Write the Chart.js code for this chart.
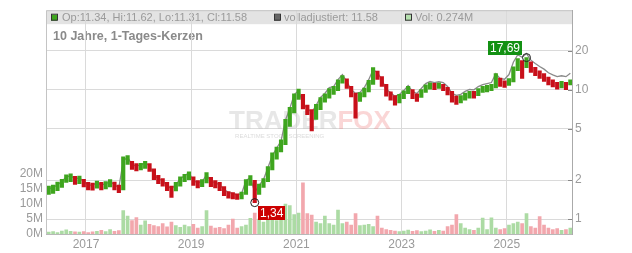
<!DOCTYPE html>
<html>
<head>
<meta charset="utf-8">
<script src="https://cdn.jsdelivr.net/npm/chart.js@4.4.1/dist/chart.umd.min.js"></script>
<style>
  html, body { margin: 0; padding: 0; background: #fff; }
  #wrap { width: 632px; height: 253px; }
</style>
</head>
<body>
<div id="wrap"><canvas id="chart" width="632" height="253"></canvas></div>
<script>
const ersterMonat = { jahr: 2016, monat: 4 };

const schluss = [
  1.67, 1.70, 1.79, 1.89, 2.06, 2.10, 1.99, 2.02, 1.89, 1.79,
  1.78, 1.85, 1.79, 1.82, 1.89, 1.79, 1.70, 2.73, 2.93, 2.54,
  2.50, 2.54, 2.64, 2.50, 2.13, 1.99, 1.92, 1.76, 1.67, 1.79,
  1.99, 2.10, 2.21, 1.92, 1.85, 1.89, 2.13, 1.89, 1.85, 1.79,
  1.61, 1.53, 1.50, 1.47, 1.50, 1.89, 1.99, 1.53, 1.73, 1.92,
  2.37, 2.93, 3.37, 3.82, 5.52, 6.82, 8.73, 9.37, 7.45, 6.82,
  6.25, 7.07, 8.14, 8.73, 9.70, 9.88, 11.17, 12.20, 10.79, 9.37,
  8.73, 8.89, 9.70, 11.17, 13.33, 12.64, 11.17, 9.37, 8.89, 8.28,
  8.58, 9.20, 10.05, 9.04, 8.73, 9.53, 10.41, 10.79, 10.60, 10.79,
  10.41, 9.70, 8.58, 8.28, 8.43, 8.89, 9.20, 9.15, 9.70, 10.05,
  10.23, 10.41, 12.20, 11.17, 11.05, 11.57, 14.30, 16.46, 15.62, 17.05,
  14.81, 13.80, 13.09, 12.42, 11.57, 11.17, 10.79, 10.98, 10.79, 11.58
];

const hoch = [
  1.80, 1.83, 1.93, 2.03, 2.20, 2.24, 2.14, 2.15, 2.03, 1.92,
  1.90, 1.97, 1.92, 1.95, 2.02, 1.93, 1.83, 3.03, 3.10, 2.80,
  2.68, 2.70, 2.80, 2.68, 2.45, 2.18, 2.06, 1.92, 1.80, 1.92,
  2.12, 2.22, 2.32, 2.12, 1.98, 2.02, 2.29, 2.10, 1.98, 1.92,
  1.78, 1.63, 1.60, 1.57, 1.62, 2.02, 2.17, 1.99, 1.86, 2.06,
  2.55, 3.25, 3.60, 4.10, 5.90, 7.30, 9.30, 10.10, 9.20, 7.60,
  7.00, 7.70, 8.70, 9.30, 10.20, 10.60, 11.90, 12.86, 12.10, 10.60,
  9.40, 9.50, 10.30, 11.80, 14.81, 13.90, 12.60, 11.00, 9.60, 9.00,
  9.20, 9.80, 10.60, 10.00, 9.30, 10.00, 10.90, 11.30, 11.20, 11.30,
  11.00, 10.40, 9.70, 8.90, 9.00, 9.40, 9.70, 9.70, 10.20, 10.60,
  10.80, 11.00, 13.30, 12.30, 11.70, 12.20, 15.00, 17.40, 16.80, 17.69,
  16.40, 14.90, 14.00, 13.30, 12.50, 11.90, 11.40, 11.60, 11.40, 11.90
];

const tief = [
  1.55, 1.58, 1.66, 1.76, 1.92, 1.95, 1.85, 1.88, 1.77, 1.68,
  1.67, 1.73, 1.68, 1.71, 1.77, 1.68, 1.60, 1.68, 2.65, 2.42,
  2.36, 2.40, 2.46, 2.33, 2.02, 1.88, 1.80, 1.66, 1.47, 1.65,
  1.80, 1.95, 2.02, 1.82, 1.74, 1.78, 1.90, 1.78, 1.74, 1.66,
  1.52, 1.45, 1.43, 1.42, 1.43, 1.55, 1.82, 1.34, 1.55, 1.76,
  1.95, 2.40, 2.90, 3.30, 3.75, 5.20, 6.60, 8.40, 7.10, 6.40,
  4.80, 5.90, 7.00, 8.00, 8.60, 9.20, 9.80, 11.20, 10.20, 8.80,
  6.03, 8.10, 8.80, 9.60, 11.00, 12.00, 10.60, 8.90, 8.30, 7.60,
  7.90, 8.50, 9.30, 8.50, 8.10, 8.70, 9.50, 10.10, 10.00, 10.20,
  9.80, 9.10, 8.00, 7.70, 7.90, 8.30, 8.60, 8.60, 9.00, 9.50,
  9.60, 9.80, 10.30, 10.60, 10.40, 10.80, 11.50, 14.00, 12.20, 14.80,
  13.60, 12.80, 12.20, 11.60, 10.90, 10.50, 10.10, 10.30, 10.00, 10.90
];

// volladjustierter Kurs (graue Linie)
const adjustiert = [
  1.72, 1.75, 1.84, 1.95, 2.12, 2.16, 2.05, 2.08, 1.95, 1.84,
  1.83, 1.91, 1.84, 1.87, 1.95, 1.84, 1.75, 2.81, 3.02, 2.62,
  2.58, 2.62, 2.72, 2.58, 2.19, 2.05, 1.98, 1.81, 1.72, 1.84,
  2.05, 2.16, 2.28, 1.98, 1.91, 1.95, 2.19, 1.95, 1.91, 1.84,
  1.69, 1.61, 1.58, 1.54, 1.58, 1.98, 2.09, 1.61, 1.82, 2.02,
  2.49, 3.08, 3.54, 4.01, 5.80, 7.16, 9.17, 9.84, 7.82, 7.16,
  6.69, 7.56, 8.71, 9.34, 10.38, 10.57, 11.95, 13.05, 11.55, 10.03,
  9.34, 9.51, 10.38, 11.95, 14.26, 13.52, 11.95, 10.03, 9.51, 8.86,
  9.18, 9.84, 10.75, 9.67, 9.34, 10.20, 11.14, 11.55, 11.34, 11.55,
  11.35, 10.57, 9.35, 9.03, 9.19, 9.69, 10.03, 9.97, 10.57, 10.95,
  11.15, 11.35, 13.30, 12.18, 12.04, 13.08, 16.30, 18.60, 17.80, 19.00,
  16.90, 15.90, 15.10, 14.40, 13.50, 13.00, 12.60, 12.80, 12.60, 13.40
];

// Volumen in Mio. Stück
const volumen = [
  0.6, 0.8, 0.5, 1.0, 1.4, 0.9, 0.7, 0.6, 0.8, 0.5,
  0.7, 0.9, 1.2, 0.8, 1.5, 0.9, 1.1, 7.8, 6.0, 4.5,
  5.5, 3.0, 4.4, 3.2, 2.8, 2.5, 3.5, 2.4, 4.0, 2.8,
  2.2, 3.0, 2.5, 3.2, 2.0, 2.5, 7.8, 2.6, 2.0, 2.2,
  1.8, 3.0, 5.0, 2.0, 2.5, 3.0, 5.2, 7.0, 5.0, 4.0,
  5.5, 6.0, 4.5, 7.5, 10.0, 9.5, 6.5, 7.0, 17.0, 6.8,
  6.3, 4.0, 3.5, 6.0, 3.5, 3.0, 8.0, 3.5, 4.0, 3.0,
  6.8, 2.8, 3.0, 3.2, 2.5, 6.0, 2.0, 1.5, 1.2, 1.0,
  0.8, 1.0, 1.3, 0.9, 1.1, 0.8, 1.0, 1.4, 0.9, 1.2,
  1.0, 2.5, 3.0, 6.5, 3.5, 2.0, 1.5, 1.2, 2.0, 5.3,
  1.5, 5.4, 2.0, 1.5, 1.8, 3.0, 3.5, 4.0, 3.5, 6.8,
  2.5, 2.0, 5.8, 3.0, 2.0, 1.5, 1.8, 1.2, 1.5, 2.0
];

const jahrTicks = [2017, 2019, 2021, 2023, 2025];
const kursTicks = [1, 2, 5, 10, 20];
const volTicks = [0, 5, 10, 15, 20];

const titel = '10 Jahre, 1-Tages-Kerzen';
const legende = { op: '11.34', hi: '11.62', lo: '11.31', cl: '11.58', adj: '11.58', vol: '0.274M' };

const schrift = '"Liberation Sans", Arial, sans-serif';
const gruen = '#3ea51e';
const rot = '#c8101a';

// x-Position = Monatsmitte als Dezimaljahr
const xWerte = schluss.map((_, i) => ersterMonat.jahr + (ersterMonat.monat - 1 + i + 0.5) / 12);
const steigt = schluss.map((v, i) => i === 0 || v >= schluss[i - 1]);

const iMax = hoch.indexOf(Math.max(...hoch));
const iMin = tief.indexOf(Math.min(...tief));

const rahmenPlugin = {
  id: 'rahmen',
  beforeDraw(chart) {
    const ctx = chart.ctx;
    const a = chart.chartArea;
    ctx.save();
    ctx.fillStyle = '#fff';
    ctx.fillRect(0, 0, chart.width, chart.height);
    // Kopfzeile
    ctx.fillStyle = '#e3e3e3';
    ctx.fillRect(a.left, a.top, a.right - a.left, 14);
    ctx.font = '11px ' + schrift;
    ctx.textBaseline = 'middle';
    const yt = a.top + 7.5;
    const kaestchen = (x, farbe) => {
      ctx.fillStyle = farbe;
      ctx.fillRect(x, yt - 3, 6, 6);
      ctx.strokeStyle = '#333';
      ctx.lineWidth = 1;
      ctx.strokeRect(x + 0.5, yt - 3.5, 6, 6);
    };
    kaestchen(a.left + 5, gruen);
    ctx.fillStyle = '#9a9a9a';
    ctx.fillText('Op:' + legende.op + ', Hi:' + legende.hi + ', Lo:' + legende.lo + ', Cl:' + legende.cl, a.left + 16, yt);
    kaestchen(274, '#666');
    ctx.fillStyle = '#9a9a9a';
    ctx.fillText('volladjustiert: ' + legende.adj, 284, yt);
    kaestchen(405, '#b5e0ae');
    ctx.fillStyle = '#9a9a9a';
    ctx.fillText('Vol: ' + legende.vol, 415, yt);
    // Titel
    ctx.font = 'bold 12.5px ' + schrift;
    ctx.fillStyle = '#8a8a8a';
    ctx.fillText(titel, a.left + 7, a.top + 26);
    ctx.restore();
  },
  beforeDatasetsDraw(chart) {
    // Wasserzeichen
    const ctx = chart.ctx;
    ctx.save();
    ctx.font = 'bold 26px ' + schrift;
    ctx.textBaseline = 'alphabetic';
    const w1 = ctx.measureText('TRADER').width;
    const w2 = ctx.measureText('FOX').width;
    const x0 = 310 - (w1 + w2) / 2;
    ctx.fillStyle = 'rgba(195,195,195,0.4)';
    ctx.fillText('TRADER', x0, 129);
    ctx.fillStyle = 'rgba(240,120,120,0.3)';
    ctx.fillText('FOX', x0 + w1, 129);
    ctx.font = '6px ' + schrift;
    ctx.fillStyle = 'rgba(190,190,190,0.55)';
    ctx.fillText('REALTIME STOCK SCREENING', x0 + 6, 138);
    ctx.restore();
  },
  afterDraw(chart) {
    const ctx = chart.ctx;
    const a = chart.chartArea;
    const sx = chart.scales.x;
    const sk = chart.scales.kurs;
    ctx.save();
    ctx.strokeStyle = '#c4c4c4';
    ctx.lineWidth = 1;
    ctx.beginPath();
    ctx.moveTo(a.left + 0.5, a.bottom);
    ctx.lineTo(a.left + 0.5, a.top + 0.5);
    ctx.lineTo(a.right, a.top + 0.5);
    ctx.stroke();
    // kurze Striche nach innen an der Kursachse
    ctx.strokeStyle = '#888';
    kursTicks.forEach(v => {
      const y = Math.round(sk.getPixelForValue(v)) + 0.5;
      ctx.beginPath();
      ctx.moveTo(a.right - 4, y);
      ctx.lineTo(a.right, y);
      ctx.stroke();
    });
    // Hoch- und Tiefpunkt markieren
    const marke = (i, wert, farbe, nachRechtsUnten) => {
      const cx = sx.getPixelForValue(xWerte[i]);
      const cy = sk.getPixelForValue(wert);
      ctx.strokeStyle = '#222';
      ctx.lineWidth = 1;
      ctx.beginPath();
      ctx.arc(cx, cy, 4, 0, Math.PI * 2);
      ctx.stroke();
      const text = wert.toFixed(2).replace('.', ',');
      ctx.font = '12px ' + schrift;
      const w = ctx.measureText(text).width + 4;
      const bx = nachRechtsUnten ? cx + 3 : cx - 4 - w;
      const by = nachRechtsUnten ? cy + 3 : cy - 17;
      ctx.fillStyle = farbe;
      ctx.fillRect(Math.round(bx), Math.round(by), Math.round(w), 14);
      ctx.fillStyle = '#fff';
      ctx.textBaseline = 'middle';
      ctx.textAlign = 'center';
      ctx.fillText(text, Math.round(bx) + w / 2, Math.round(by) + 7.5);
      ctx.textAlign = 'left';
    };
    marke(iMax, hoch[iMax], '#139113', false);
    marke(iMin, tief[iMin], '#cc0000', true);
    ctx.restore();
  }
};

new Chart(document.getElementById('chart'), {
  type: 'bar',
  data: {
    datasets: [
      {
        type: 'bar',
        label: 'Kerzen',
        data: xWerte.map((x, i) => ({ x: x, y: [tief[i], hoch[i]] })),
        backgroundColor: steigt.map(s => s ? gruen : rot),
        yAxisID: 'kurs',
        barThickness: 3.5,
        grouped: false,
        order: 1
      },
      {
        type: 'line',
        label: 'volladjustiert',
        data: xWerte.map((x, i) => ({ x: x, y: adjustiert[i] })),
        borderColor: '#8a8a8a',
        borderWidth: 1.3,
        pointRadius: 0,
        tension: 0,
        yAxisID: 'kurs',
        order: 2
      },
      {
        type: 'bar',
        label: 'Vol',
        data: xWerte.map((x, i) => ({ x: x, y: volumen[i] })),
        backgroundColor: steigt.map(s => s ? '#acdba4' : '#f2a7ad'),
        yAxisID: 'vol',
        barThickness: 3,
        grouped: false,
        order: 3
      }
    ]
  },
  options: {
    responsive: false,
    animation: false,
    events: [],
    layout: { padding: { top: 8, left: 0, right: 0, bottom: 0 } },
    plugins: { legend: { display: false }, tooltip: { enabled: false } },
    scales: {
      x: {
        type: 'linear',
        offset: false,
        min: 2016.24,
        max: 2026.24,
        afterBuildTicks: s => { s.ticks = jahrTicks.map(v => ({ value: v })); },
        afterFit: s => { s.height = 19; },
        ticks: {
          callback: v => String(v),
          color: '#9a9a9a',
          font: { size: 12, family: schrift },
          padding: 3,
          maxRotation: 0,
          autoSkip: false
        },
        grid: { color: '#dadada', drawTicks: false, offset: false },
        border: { color: '#b8b8b8' }
      },
      kurs: {
        type: 'logarithmic',
        position: 'right',
        min: 0.767,
        max: 41.1,
        afterBuildTicks: s => { s.ticks = kursTicks.map(v => ({ value: v })); },
        afterFit: s => { s.width = 60; },
        ticks: {
          callback: v => String(v),
          color: '#9a9a9a',
          font: { size: 12, family: schrift },
          padding: 3
        },
        grid: { color: '#dadada', drawTicks: false },
        border: { color: '#aaa' }
      },
      vol: {
        type: 'linear',
        position: 'left',
        min: 0,
        max: 74.5,
        afterBuildTicks: s => { s.ticks = volTicks.map(v => ({ value: v })); },
        afterFit: s => { s.width = 46; },
        ticks: {
          callback: v => v + 'M',
          color: '#9a9a9a',
          font: { size: 12, family: schrift },
          padding: 3
        },
        grid: { display: false, drawTicks: false },
        border: { display: false }
      }
    }
  },
  plugins: [rahmenPlugin]
});
</script>
</body>
</html>
